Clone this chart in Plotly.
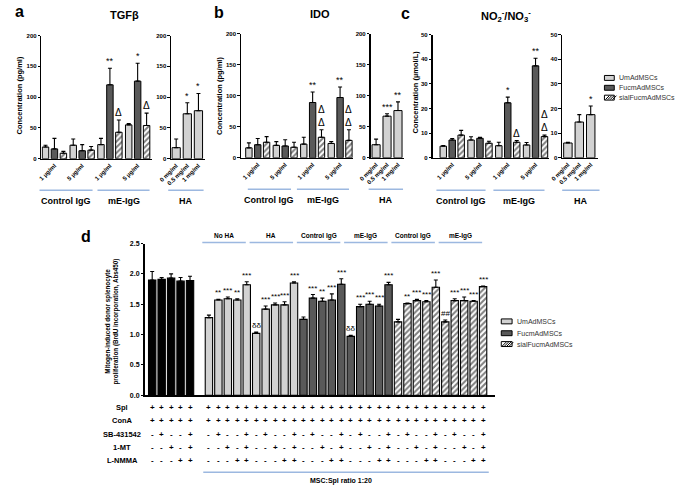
import plotly.graph_objects as go

W, H = 685, 489
FONT = "Arial, Liberation Sans, sans-serif"
LIGHT = "#d2d2d2"
DARK = "#595959"
BLUE = "#9cb8e0"

# ---------------- data ----------------
series_names = ["UmAdMSCs", "FucmAdMSCs", "sialFucmAdMSCs"]
dose_labels = ["1 µg/ml", "5 µg/ml", "1 µg/ml", "5 µg/ml"]
ha_labels = ["0 mg/ml", "0.5 mg/ml", "1 mg/ml"]

# a: TGFb (pg/ml), groups = Control IgG 1, Control IgG 5, mE-IgG 1, mE-IgG 5
tgf_um = [19, 22, 23, 55]
tgf_um_err = [3, 10, 10, 2]
tgf_fucm = [16, 13, 120, 126]
tgf_fucm_err = [17, 10, 27, 29]
tgf_sial = [9, 14, 43, 54]
tgf_sial_err = [3, 6, 20, 20]
tgf_fucm_sig = ["", "", "**", "*"]
tgf_sial_sig = ["", "", "Δ", "Δ"]
tgf_ha = [18, 73, 78]
tgf_ha_err = [14, 18, 28]
tgf_ha_sig = ["", "*", "*"]

# b: IDO (pg/ml)
ido_um = [16, 20, 22, 23]
ido_um_err = [8, 6, 11, 3]
ido_fucm = [21, 19, 89, 97]
ido_fucm_err = [10, 10, 17, 17]
ido_sial = [25, 17, 33, 28]
ido_sial_err = [9, 8, 12, 17]
ido_fucm_sig = ["", "", "**", "**"]
ido_sial_sig = ["", "", "Δ<br>Δ", "Δ<br>Δ"]
ido_ha = [21, 67, 76]
ido_ha_err = [9, 4, 14]
ido_ha_sig = ["", "***", "**"]

# c: NO2-/NO3- (umol/L)
no_um = [4.7, 7.2, 4.9, 5.2]
no_um_err = [0.3, 1.3, 1.4, 1.0]
no_fucm = [7.2, 7.9, 22.3, 37.3]
no_fucm_err = [0.6, 0.4, 2.3, 3.1]
no_sial = [9.2, 5.9, 6.3, 8.6]
no_sial_err = [1.9, 0.8, 0.7, 0.6]
no_fucm_sig = ["", "", "*", "**"]
no_sial_sig = ["", "", "Δ", "Δ<br>Δ"]
no_ha = [6.0, 14.5, 17.5]
no_ha_err = [0.3, 3.0, 3.5]
no_ha_sig = ["", "", "*"]

# d: proliferation (Abs450)
spl_only = [1.90, 1.91, 1.93, 1.88, 1.89]
spl_only_err = [0.14, 0.03, 0.07, 0.06, 0.07]
um_noha = [1.28, 1.57, 1.59, 1.57, 1.82]
um_noha_err = [0.04, 0.01, 0.03, 0.02, 0.05]
um_ha = [1.02, 1.42, 1.49, 1.49, 1.85]
um_ha_err = [0.02, 0.05, 0.03, 0.05, 0.02]
fucm_cigg = [1.25, 1.60, 1.55, 1.57, 1.83]
fucm_cigg_err = [0.04, 0.06, 0.05, 0.10, 0.09]
fucm_meigg = [0.97, 1.46, 1.50, 1.47, 1.82]
fucm_meigg_err = [0.02, 0.04, 0.05, 0.03, 0.04]
sial_cigg = [1.21, 1.51, 1.56, 1.54, 1.78]
sial_cigg_err = [0.04, 0.01, 0.02, 0.02, 0.12]
sial_meigg = [1.21, 1.56, 1.56, 1.55, 1.79]
sial_meigg_err = [0.03, 0.03, 0.06, 0.01, 0.01]
um_noha_sig = ["", "**", "***", "**", "***"]
um_ha_sig = ["δδ", "***", "***", "***", "***"]
fucm_cigg_sig = ["", "***", "**", "***", "***"]
fucm_meigg_sig = ["δδ", "***", "***", "***", "***"]
sial_cigg_sig = ["", "**", "***", "***", "***"]
sial_meigg_sig = ["##", "***", "***", "***", "***"]
d_headers = ["No HA", "HA", "Control IgG", "mE-IgG", "Control IgG", "mE-IgG"]

row_names = ["Spl", "ConA", "SB-431542", "1-MT", "L-NMMA"]
spl_flag = ["+", "+", "+", "+", "+"]
cona_flag = ["+", "+", "+", "+", "+"]
sb_flag = ["-", "+", "-", "-", "+"]
mt_flag = ["-", "-", "+", "-", "+"]
lnmma_flag = ["-", "-", "-", "+", "+"]


def px(p):
    return p / W


def py(p):
    return 1 - p / H


def ref(i):
    return "" if i == 1 else str(i)


fig = go.Figure()
layout = {}
annotations = []
shapes = []


def add_axes(i, xdom, ydom, xrng, yrng, dtick, tickvals=None, ticktext=None,
             tickfmt=None, ysize=6):
    layout["xaxis" + ref(i)] = dict(
        domain=[px(xdom[0]), px(xdom[1])], range=xrng, anchor="y" + ref(i),
        showline=True, linecolor="black", linewidth=1.2, showgrid=False,
        zeroline=False, ticks="", tickvals=tickvals or [], ticktext=ticktext or [],
        showticklabels=bool(tickvals),
        tickangle=-45, tickfont=dict(size=6, family=FONT, color="black", weight="bold"),
        fixedrange=True)
    layout["yaxis" + ref(i)] = dict(
        domain=[py(ydom[1]), py(ydom[0])], range=yrng, anchor="x" + ref(i),
        showline=True, linecolor="black", linewidth=1.2, showgrid=False,
        zeroline=False, ticks="outside", ticklen=2.5, tickwidth=1, tickcolor="black",
        dtick=dtick, tick0=0, tickformat=tickfmt,
        tickfont=dict(size=ysize, family=FONT, color="black", weight="bold"),
        fixedrange=True)


def add_bar(i, xs, ys, errs, color, hatch=False, width=0.72, lw=1, name=None):
    marker = dict(color=color, line=dict(color="black", width=lw))
    if hatch:
        marker["pattern"] = dict(shape="/", fgcolor="black", bgcolor="white",
                                 size=4, solidity=0.5, fillmode="overlay")
    fig.add_trace(go.Bar(
        x=xs, y=ys, width=width, marker=marker, name=name,
        error_y=dict(type="data", array=errs, arrayminus=[0] * len(errs),
                     symmetric=False, color="black", thickness=1.1, width=2),
        xaxis="x" + ref(i), yaxis="y" + ref(i), showlegend=False,
        hoverinfo="skip"))


def add_sig(i, xs, ys, errs, labels, size=9, yshift=0):
    for x, y, e, t in zip(xs, ys, errs, labels):
        if t:
            annotations.append(dict(
                x=x, y=y + e, xref="x" + ref(i), yref="y" + ref(i), text=t,
                showarrow=False, yanchor="bottom", yshift=yshift,
                font=dict(size=size, family=FONT, color="black")))


def text(x, y, t, size, bold=True, angle=0, xanchor="center", color="black"):
    annotations.append(dict(
        x=px(x), y=py(y), xref="paper", yref="paper", text=t, showarrow=False,
        xanchor=xanchor, yanchor="middle", textangle=angle,
        font=dict(size=size, family=FONT, color=color,
                  weight="bold" if bold else "normal")))


def hline(x0, x1, y, xref="paper", color=BLUE, w=1.6):
    if xref == "paper":
        x0, x1 = px(x0), px(x1)
    shapes.append(dict(type="line", xref=xref, yref="paper", x0=x0, x1=x1,
                       y0=py(y), y1=py(y), line=dict(color=color, width=w)))


STRIDE = 3.1
pos = [[g * STRIDE + j for g in range(4)] for j in range(3)]
tick_pos = [g * STRIDE + 1 for g in range(4)]

panels = [
    # idx, main x px, HA x px, y px, xrng, harng, ymax, dtick
    (1, (30, 142), (162, 196), (32, 157), [-0.45, 11.85], [-0.45, 2.55], 200, 50,
     (tgf_um, tgf_um_err, tgf_fucm, tgf_fucm_err, tgf_sial, tgf_sial_err,
      tgf_fucm_sig, tgf_sial_sig, tgf_ha, tgf_ha_err, tgf_ha_sig)),
    (3, (233, 347), (365, 399), (30, 156), [-0.9, 11.75], [-0.5, 2.55], 200, 50,
     (ido_um, ido_um_err, ido_fucm, ido_fucm_err, ido_sial, ido_sial_err,
      ido_fucm_sig, ido_sial_sig, ido_ha, ido_ha_err, ido_ha_sig)),
    (5, (428, 547), (560, 596), (31, 156), [-1.2, 11.85], [-0.5, 2.6], 50, 10,
     (no_um, no_um_err, no_fucm, no_fucm_err, no_sial, no_sial_err,
      no_fucm_sig, no_sial_sig, no_ha, no_ha_err, no_ha_sig)),
]

for i, xm, xh, yd, xr, hr, ymax, dt, d in panels:
    um, ume, fu, fue, si, sie, fsig, ssig, ha, hae, hsig = d
    add_axes(i, xm, yd, xr, [0, ymax], dt, tick_pos, dose_labels)
    add_axes(i + 1, xh, yd, hr, [0, ymax], dt, [0, 1, 2], ha_labels)
    add_bar(i, pos[0], um, ume, LIGHT)
    add_bar(i, pos[1], fu, fue, DARK)
    add_bar(i, pos[2], si, sie, "white", hatch=True)
    add_bar(i + 1, [0, 1, 2], ha, hae, LIGHT, width=0.74)
    add_sig(i, pos[1], fu, fue, fsig)
    add_sig(i, pos[2], si, sie, ssig, size=10)
    add_sig(i + 1, [0, 1, 2], ha, hae, hsig)

# panel labels / titles / y titles
text(8, 8, "a", 16)
text(115, 11, "TGFβ", 11)
text(211, 9, "b", 16)
text(313, 10, "IDO", 11)
text(401, 10, "c", 16)
text(503, 12, "NO<sub>2</sub><sup>-</sup>/NO<sub>3</sub><sup>-</sup>", 11)
text(8, 93, "Concentration (pg/ml)", 7.5, angle=-90)
text(211, 93, "Concentration (pg/ml)", 7.5, angle=-90)
text(411, 89, "Concentration (µmol/L)", 7.5, angle=-90)

# group brackets top panels
for segs, yl, yt in [
    ([(28, 82), (87, 140), (159, 195)], 189, 200),
    ([(240, 284), (290, 343), (363, 398)], 188, 199),
    ([(432, 482), (490, 542), (560, 598)], 189, 200),
]:
    for (a, b), lab in zip(segs, ["Control IgG", "mE-IgG", "HA"]):
        hline(a, b, yl)
        text((a + b) / 2, yt, lab, 9)


# custom legends
def legend_block(x0, ys, sw=10, sh=5):
    fills = [LIGHT, DARK, "white"]
    for y, name, f in zip(ys, series_names, fills):
        shapes.append(dict(type="rect", xref="paper", yref="paper",
                           x0=px(x0), x1=px(x0 + sw), y0=py(y + sh / 2), y1=py(y - sh / 2),
                           fillcolor=f, line=dict(color="black", width=1)))
        if f == "white":
            for k in range(4):
                xs = x0 + 1 + 2.4 * k
                shapes.append(dict(type="line", xref="paper", yref="paper",
                                   x0=px(xs), x1=px(xs + sh - 1),
                                   y0=py(y + sh / 2 - 0.5), y1=py(y - sh / 2 + 0.5),
                                   line=dict(color="black", width=1)))
        text(x0 + sw + 3, y, name, 7, bold=False, xanchor="left", color="#333")


legend_block(603, [75, 85, 95])
legend_block(498, [322, 334, 345], sw=11)

# ---------------- panel d ----------------
add_axes(7, (135, 492), (243, 397), [-0.8, 36.3], [0, 2.5], 0.5, tickfmt=".1f", ysize=7)
d_series = [
    (spl_only, spl_only_err, "black", False, None),
    (um_noha, um_noha_err, LIGHT, False, um_noha_sig),
    (um_ha, um_ha_err, LIGHT, False, um_ha_sig),
    (fucm_cigg, fucm_cigg_err, DARK, False, fucm_cigg_sig),
    (fucm_meigg, fucm_meigg_err, DARK, False, fucm_meigg_sig),
    (sial_cigg, sial_cigg_err, "white", True, sial_cigg_sig),
    (sial_meigg, sial_meigg_err, "white", True, sial_meigg_sig),
]
all_cols = []
for k, (vals, errs, col, hatch, sig) in enumerate(d_series):
    start = 0 if k == 0 else 6 + 5 * (k - 1)
    xs = [start + j for j in range(len(vals))]
    all_cols.extend(xs)
    add_bar(7, xs, vals, errs, col, hatch=hatch, width=0.78, lw=1.1)
    if sig:
        add_sig(7, xs, vals, errs, sig, size=8)

for k, lab in enumerate(d_headers):
    s = 6 + 5 * k
    shapes.append(dict(type="line", xref="x7", yref="paper", x0=s - 0.7, x1=s + 3.9,
                       y0=py(242), y1=py(242), line=dict(color=BLUE, width=1.6)))
    annotations.append(dict(x=s + 1.6, y=py(235), xref="x7", yref="paper", text=lab,
                            showarrow=False, font=dict(size=6.5, family=FONT,
                                                       color="black", weight="bold")))

text(75, 236, "d", 16)
text(102, 322, "Mitogen-induced donor splenocyte<br>proliferation (BrdU incorporation, Abs450)",
     6.3, angle=-90)

row_y = [409, 423, 437, 450, 463]
flags = [spl_flag, cona_flag, sb_flag, mt_flag, lnmma_flag]
for name, yy, fl in zip(row_names, row_y, flags):
    text(112, yy, name, 7.5)
    for c, x in enumerate(all_cols):
        annotations.append(dict(x=x, y=py(yy), xref="x7", yref="paper",
                                text=fl[c % 5] if c < 5 else fl[(c - 5) % 5],
                                showarrow=False, yanchor="middle",
                                font=dict(size=8, family=FONT, color="black", weight="bold")))

shapes.append(dict(type="line", xref="x7", yref="paper", x0=5.4, x1=35.6,
                   y0=py(475), y1=py(475), line=dict(color=BLUE, width=1.6)))
text(335, 484, "MSC:Spl ratio 1:20", 7)

fig.update_layout(
    width=W, height=H, margin=dict(l=0, r=0, t=0, b=0),
    paper_bgcolor="white", plot_bgcolor="white", barmode="overlay",
    showlegend=False, annotations=annotations, shapes=shapes, hovermode=False,
    font=dict(family=FONT, color="black"), **layout)

# page body margin would shift the fixed-size figure by 8px
fig.write_html("out.html", config={"displayModeBar": False, "staticPlot": True},
               post_script="document.body.style.margin='0px';")
